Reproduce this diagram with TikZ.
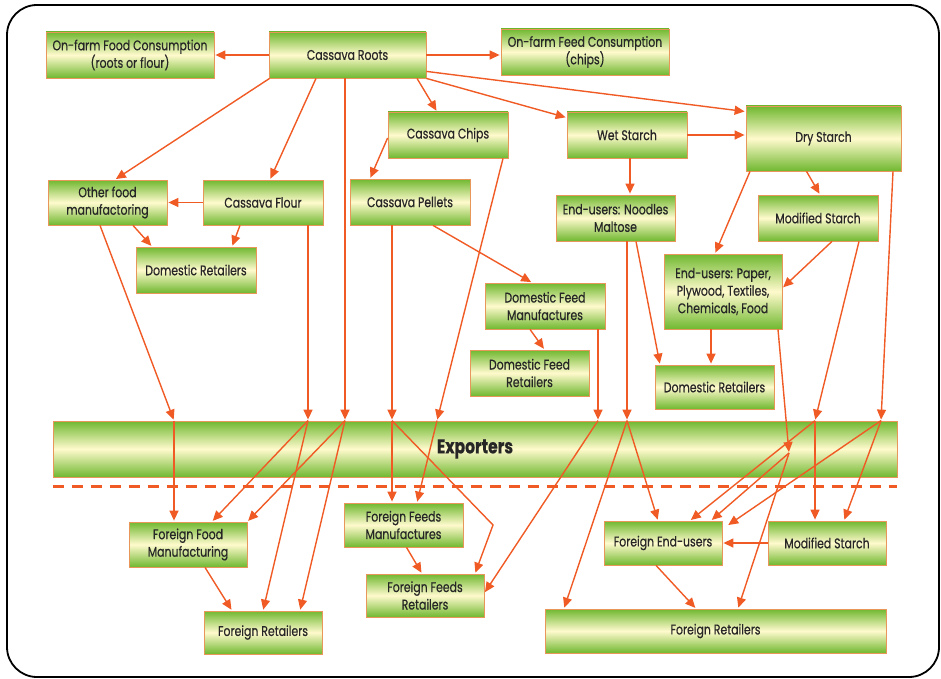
\documentclass[tikz,border=0pt]{standalone}
\usepackage{fontspec}
\setmainfont{Poppins}[FakeStretch=0.78,FakeBold=0.5]
\usetikzlibrary{arrows.meta,calc}
\definecolor{arr}{RGB}{240,90,36}
\definecolor{bgreen}{RGB}{112,184,48}
\definecolor{bcream}{RGB}{255,250,205}
\definecolor{bedge}{RGB}{232,150,90}
\begin{document}
\begin{tikzpicture}[x=1pt,y=-1pt,
  box/.style={draw=bedge, line width=0.8pt, top color=bgreen, bottom color=bgreen, middle color=bcream,
    align=center, font=\fontsize{14}{17.5}\selectfont, inner sep=0pt, text=black!85},
  conn/.style={draw=arr, line width=1.4pt, -{Triangle[length=10pt,width=9pt]}, shorten >=1pt},
  dashline/.style={draw=arr, line width=3.5pt, dash pattern=on 11pt off 8pt}]
\useasboundingbox (0,0) rectangle (941,679);
\draw[line width=1.8pt, rounded corners=30pt] (7,5) rectangle (939,677);

% nodes
\node[box, minimum width=168pt, minimum height=46pt] (ofood) at (130,55) {On-farm Food Consumption\\(roots or flour)};
\node[box, minimum width=157pt, minimum height=46pt] (roots) at (347.5,55) {Cassava Roots};
\node[box, minimum width=168pt, minimum height=46pt] (ofeed) at (585,52) {On-farm Feed Consumption\\(chips)};
\node[box, minimum width=120pt, minimum height=46pt] (chips) at (448,135) {Cassava Chips};
\node[box, minimum width=120pt, minimum height=46pt] (wet) at (627,135) {Wet Starch};
\node[box, minimum width=155pt, minimum height=65pt] (dry) at (823.5,138.5) {Dry Starch};
\node[box, minimum width=119pt, minimum height=45pt] (ofm) at (107.5,202.5) {Other food\\manufactoring};
\node[box, minimum width=120pt, minimum height=45pt] (flour) at (263,202.5) {Cassava Flour};
\node[box, minimum width=120pt, minimum height=46pt] (pellets) at (410,202) {Cassava Pellets};
\node[box, minimum width=120pt, minimum height=46pt] (dret1) at (196,270) {Domestic Retailers};
\node[box, minimum width=119pt, minimum height=46pt] (noodles) at (615.5,218) {End-users: Noodles\\Maltose};
\node[box, minimum width=120pt, minimum height=46pt] (mod1) at (818,218) {Modified Starch};
\node[box, minimum width=118pt, minimum height=75pt] (paper) at (723,291.5) {End-users: Paper,\\Plywood, Textiles,\\Chemicals, Food};
\node[box, minimum width=120pt, minimum height=46pt] (dfm) at (545,306) {Domestic Feed\\Manufactures};
\node[box, minimum width=119pt, minimum height=46pt] (dfr) at (529.5,373) {Domestic Feed\\Retailers};
\node[box, minimum width=119pt, minimum height=44pt] (dret2) at (714.5,387) {Domestic Retailers};
\node[box, minimum width=844pt, minimum height=56pt, font=\fontsize{20}{22}\selectfont\bfseries] (exp) at (475,449) {Exporters};
\node[box, minimum width=118pt, minimum height=45pt] (ffm) at (188,544.5) {Foreign Food\\Manufacturing};
\node[box, minimum width=118pt, minimum height=43pt] (fret1) at (263,632.5) {Foreign Retailers};
\node[box, minimum width=119pt, minimum height=44pt] (ffeedm) at (403.5,525) {Foreign Feeds\\Manufactures};
\node[box, minimum width=118pt, minimum height=43pt] (ffeedr) at (425,595.5) {Foreign Feeds\\Retailers};
\node[box, minimum width=118pt, minimum height=44pt] (fend) at (663,543) {Foreign End-users};
\node[box, minimum width=118pt, minimum height=44pt] (mod2) at (827,543) {Modified Starch};
\node[box, minimum width=341pt, minimum height=44pt] (fret2) at (715.5,631) {Foreign Retailers};

% exporter connection points
\coordinate (eOF) at ([xshift=-301pt]exp.north);
\coordinate (eFL) at ([xshift=-167pt]exp.north);
\coordinate (eRT) at ([xshift=-130pt]exp.north);
\coordinate (ePL) at ([xshift=-83pt]exp.north);
\coordinate (eCH) at ([xshift=-38pt]exp.north);
\coordinate (eDF) at ([xshift=123pt]exp.north);
\coordinate (eND) at ([xshift=152pt]exp.north);
\coordinate (eMS) at ([xshift=340pt]exp.north);
\coordinate (eDS) at ([xshift=406pt]exp.north);
\coordinate (ePA) at ([xshift=314pt,yshift=-4pt]exp.center);
\coordinate (bendA) at (493,525);

\draw[dashline] ([yshift=-9pt]exp.south west) -- ([yshift=-9pt]exp.south east);

% roots
\draw[conn] (roots.west) -- (ofood.east);
\draw[conn] (roots.east) -- (roots.east -| ofeed.west);
\draw[conn] ([xshift=1pt]roots.south west) -- ([xshift=7.5pt]ofm.north);
\draw[conn] ([xshift=-31.5pt]roots.south) -- ([xshift=7pt]flour.north);
\draw[conn] ([xshift=-2.5pt]roots.south) -- (eRT);
\draw[conn] ([xshift=69.5pt]roots.south) -- ([xshift=-11pt]chips.north);
\draw[conn] (roots.south east) -- ([yshift=-6pt]wet.north west);
\draw[conn] ([yshift=7pt]roots.south east) -- ([yshift=-6pt]dry.north west);
% chips
\draw[conn] ([yshift=-3pt]chips.west) -- ([xshift=-40pt]pellets.north);
\draw[conn] ([xshift=55pt]chips.south) -- (eCH);
\draw[conn] (eCH) -- ([xshift=13.5pt]ffeedm.north);
% wet
\draw[conn] (wet.east) -- (wet.east -| dry.west);
\draw[conn] ([xshift=3pt]wet.south) -- ([xshift=14.5pt]noodles.north);
% dry
\draw[conn] ([xshift=-73.5pt]dry.south) -- ([xshift=-8pt]paper.north);
\draw[conn] ([xshift=-17pt]dry.south) -- ([xshift=2pt]mod1.north);
\draw[conn] ([xshift=69.5pt]dry.south) -- (eDS);
% other food, flour
\draw[conn] (flour.west) -- (flour.west -| ofm.east);
\draw[conn] ([xshift=25.5pt]ofm.south) -- ([xshift=-44pt]dret1.north);
\draw[conn] ([xshift=-7.5pt]ofm.south) -- (eOF);
\draw[conn] ([xshift=-23pt]flour.south) -- ([xshift=36pt]dret1.north);
\draw[conn] ([xshift=45pt]flour.south) -- (eFL);
% pellets
\draw[conn] ([xshift=-18pt]pellets.south) -- (ePL);
\draw[conn] ([xshift=23pt]pellets.south) -- ([xshift=-13pt]dfm.north);
\draw[conn] ([xshift=-15pt]dfm.south) -- ([xshift=15pt]dfr.north);
\draw[conn] ([xshift=53pt]dfm.south) -- (eDF);
% noodles
\draw[conn] ([xshift=11.5pt]noodles.south) -- (eND);
\draw[conn] ([xshift=20.5pt]noodles.south) -- ([xshift=-54.5pt]dret2.north);
% paper
\draw[conn] ([xshift=-12pt]paper.south) -- ([xshift=-3.5pt]dret2.north);
\draw[conn] ([xshift=55pt]paper.south) -- (ePA);
% modified starch (domestic)
\draw[conn] ([xshift=14pt]mod1.south) -- ([yshift=3.5pt]paper.east);
\draw[conn] ([xshift=41pt]mod1.south) -- (eMS);

% exporters to foreign
\draw[conn] (eOF) -- ([xshift=-14pt]ffm.north);
\draw[conn] (eFL) -- ([xshift=24pt]ffm.north);
\draw[conn] (eFL) -- (fret1.north);
\draw[conn] (eRT) -- (ffm.north east);
\draw[conn] (eRT) -- ([xshift=37pt]fret1.north);
\draw[conn] (ePL) -- ([xshift=-11.5pt]ffeedm.north);
\draw[conn] (ePL) -- (bendA) -- ([xshift=50pt]ffeedr.north);
\draw[conn] (eDF) -- ([yshift=2.5pt]ffeedr.east);
\draw[conn] (eND) -- ([xshift=-5pt]fend.north);
\draw[conn] (eND) -- ([xshift=-151.5pt]fret2.north);
\draw[conn] (ePA) -- ([xshift=48pt]fend.north);
\draw[conn] (ePA) -- ([xshift=22.5pt]fret2.north);
\draw[conn] (eMS) -- ([xshift=27pt]fend.north);
\draw[conn] (eMS) -- ([xshift=-12pt]mod2.north);
\draw[conn] (eDS) -- ([xshift=5pt,yshift=-5pt]fend.north east);
\draw[conn] (eDS) -- ([xshift=17pt]mod2.north);
\draw[conn] (mod2.west) -- (mod2.west -| fend.east);
\draw[conn] ([xshift=-7pt]fend.south) -- ([xshift=-19.5pt]fret2.north);
\draw[conn] ([xshift=17pt]ffm.south) -- ([xshift=-31pt]fret1.north);
\draw[conn] ([xshift=3pt]ffeedm.south) -- ([xshift=-3pt]ffeedr.north);
\end{tikzpicture}
\end{document}
